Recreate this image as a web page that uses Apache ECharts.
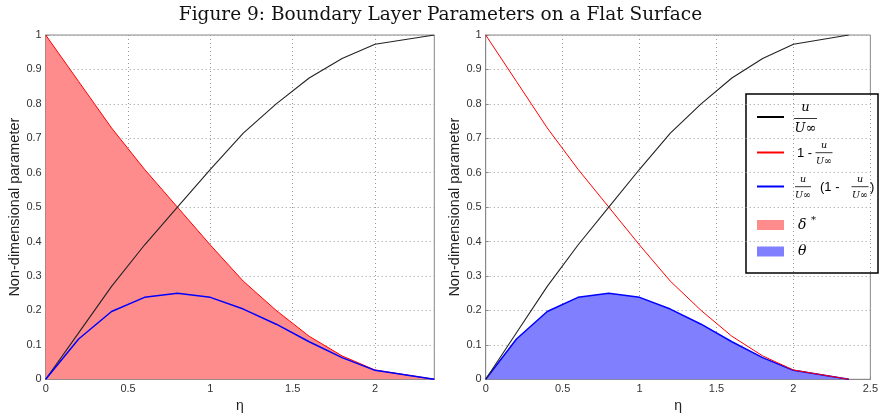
<!DOCTYPE html>
<html>
<head>
<meta charset="utf-8">
<script src="https://cdn.jsdelivr.net/npm/echarts@6/dist/echarts.min.js"></script>
<style>
  html, body { margin: 0; padding: 0; background: #fff; }
  #chart { width: 881px; height: 419px; }
</style>
</head>
<body>
<div id="chart"></div>
<script>
// eta positions
var eta = [0, 0.2, 0.4, 0.6, 0.8, 1.0, 1.2, 1.4, 1.6, 1.8, 2.0, 2.36];
// u / U_inf
var uRatio = [0, 0.135, 0.27, 0.39, 0.5, 0.61, 0.715, 0.8, 0.875, 0.932, 0.973, 1];
// 1 - u / U_inf
var oneMinus = [1, 0.865, 0.73, 0.61, 0.5, 0.39, 0.285, 0.2, 0.125, 0.068, 0.027, 0];
// u/U_inf * (1 - u/U_inf)
var product = [0, 0.117, 0.197, 0.238, 0.25, 0.238, 0.204, 0.16, 0.109, 0.063, 0.026, 0];

var yTicks = [0, 0.1, 0.2, 0.3, 0.4, 0.5, 0.6, 0.7, 0.8, 0.9, 1];

function pairs(arr) {
  return eta.map(function (x, i) { return [x, arr[i]]; });
}

var dom = document.getElementById("chart");
var myChart = echarts.init(dom);

var axisFont = 'Liberation Sans, Arial, sans-serif';

function xAxisCfg(idx, max) {
  return {
    type: 'value', gridIndex: idx, min: 0, max: max, interval: 0.5,
    name: 'η', nameLocation: 'middle', nameGap: 19,
    nameTextStyle: { fontSize: 14, color: '#222', fontFamily: axisFont },
    axisLine: { lineStyle: { color: '#888' } },
    axisTick: { inside: true, length: 3, lineStyle: { color: '#888' } },
    axisLabel: { showMaxLabel: max === 2.5, fontSize: 11, color: '#333', margin: 4, fontFamily: axisFont },
    splitLine: { show: true, lineStyle: { color: '#999', type: [1, 3] } }
  };
}

function yAxisCfg(idx) {
  return {
    type: 'value', gridIndex: idx, min: yTicks[0], max: yTicks[yTicks.length - 1], interval: 0.1,
    name: 'Non-dimensional parameter', nameLocation: 'middle', nameGap: 22,
    nameTextStyle: { fontSize: 14.5, color: '#222', fontFamily: axisFont },
    axisLine: { lineStyle: { color: '#888' } },
    axisTick: { inside: true, length: 3, lineStyle: { color: '#888' } },
    axisLabel: { fontSize: 11, color: '#333', margin: 4, fontFamily: axisFont },
    splitLine: { show: true, lineStyle: { color: '#999', type: [1, 3] } }
  };
}

function line(name, idx, arr, color, width, area) {
  var s = {
    name: name, type: 'line', xAxisIndex: idx, yAxisIndex: idx,
    data: pairs(arr), symbol: 'none', silent: true,
    lineStyle: { color: color, width: width }
  };
  if (area) s.areaStyle = { color: area, opacity: 1 };
  return s;
}

var lx = 746, ly = 94;
var serif = 'DejaVu Serif, serif';

function frac(cx, yTop, yBar, yBot, half, size) {
  return [
    { type: 'text', style: { x: cx, y: yTop, text: 'u', fontSize: size, fontStyle: 'italic', fontFamily: serif, fill: '#000', align: 'center', verticalAlign: 'middle' } },
    { type: 'line', shape: { x1: cx - half, y1: yBar, x2: cx + half, y2: yBar }, style: { stroke: '#000', lineWidth: 0.8 } },
    { type: 'text', style: { x: cx, y: yBot, text: 'U∞', fontSize: size, fontStyle: 'italic', fontFamily: serif, fill: '#000', align: 'center', verticalAlign: 'middle' } }
  ];
}

var legendEls = [
  { type: 'rect', shape: { x: lx, y: ly, width: 132, height: 179 }, style: { fill: '#fff', stroke: '#000', lineWidth: 1.5 } },
  { type: 'line', shape: { x1: 757, y1: 117, x2: 784, y2: 117 }, style: { stroke: '#000', lineWidth: 2 } },
  { type: 'line', shape: { x1: 757, y1: 152.5, x2: 784, y2: 152.5 }, style: { stroke: '#ff0000', lineWidth: 2 } },
  { type: 'line', shape: { x1: 757, y1: 186.5, x2: 784, y2: 186.5 }, style: { stroke: '#0000ff', lineWidth: 2 } },
  { type: 'rect', shape: { x: 757, y: 220, width: 27, height: 10 }, style: { fill: '#ff8c8c' } },
  { type: 'rect', shape: { x: 757, y: 246.5, width: 27, height: 10 }, style: { fill: '#8080ff' } },
  { type: 'text', style: { x: 797, y: 153, text: '1 -', fontSize: 13, fontFamily: axisFont, fill: '#000', verticalAlign: 'middle' } },
  { type: 'text', style: { x: 820, y: 187, text: '(1 -', fontSize: 13, fontFamily: axisFont, fill: '#000', verticalAlign: 'middle' } },
  { type: 'text', style: { x: 870, y: 187, text: ')', fontSize: 13, fontFamily: axisFont, fill: '#000', verticalAlign: 'middle' } },
  { type: 'text', style: { x: 798, y: 225, text: 'δ', fontSize: 14, fontStyle: 'italic', fontFamily: serif, fill: '#000', verticalAlign: 'middle' } },
  { type: 'text', style: { x: 811, y: 220, text: '*', fontSize: 10, fontFamily: serif, fill: '#000', verticalAlign: 'middle' } },
  { type: 'text', style: { x: 798, y: 251.5, text: 'θ', fontSize: 14, fontStyle: 'italic', fontFamily: serif, fill: '#000', verticalAlign: 'middle' } }
].concat(
  frac(805.5, 108, 118.5, 128.5, 11.5, 13),
  frac(824, 146, 152.7, 161.5, 8.5, 9.5),
  frac(803, 179.5, 186.7, 195.5, 8, 9.5),
  frac(860, 179.5, 186.7, 195.5, 8.5, 9.5)
);

var option = {
  animation: false,
  backgroundColor: '#fff',
  title: {
    text: 'Figure 9: Boundary Layer Parameters on a Flat Surface',
    left: 'center', top: 1,
    textStyle: { fontFamily: serif, fontSize: 18.5, fontWeight: 'normal', color: '#111' }
  },
  grid: [
    { left: 45.7, right: 446.7, top: 35, bottom: 39.7, show: true, borderColor: '#888', borderWidth: 1 },
    { left: 485.7, right: 7.5, top: 35, bottom: 39.7, show: true, borderColor: '#888', borderWidth: 1 }
  ],
  xAxis: [xAxisCfg(0, 2.36), xAxisCfg(1, 2.5)],
  yAxis: [yAxisCfg(0), yAxisCfg(1)],
  series: [
    line('δ*', 0, oneMinus, '#ff0000', 1, '#ff8c8c'),
    line('u/U', 0, uRatio, '#222', 1.1),
    line('product', 0, product, '#0000ff', 1.5),
    line('θ', 1, product, '#0000ff', 1.5, '#8080ff'),
    line('1-u/U', 1, oneMinus, '#ff0000', 1),
    line('u/U', 1, uRatio, '#222', 1.1)
  ],
  graphic: legendEls
};

if (option && typeof option === "object") {
  myChart.setOption(option, true);
}
</script>
</body>
</html>
